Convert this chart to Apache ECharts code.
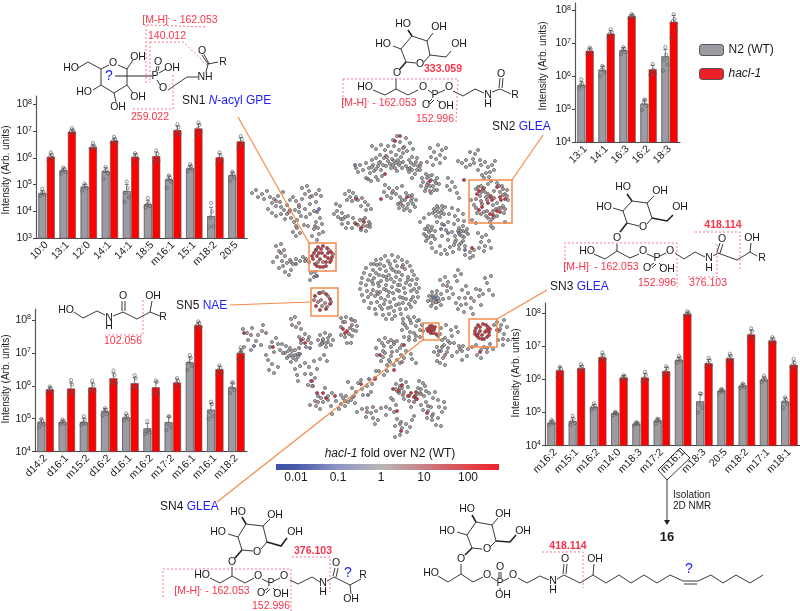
<!DOCTYPE html>
<html><head><meta charset="utf-8">
<style>html,body{margin:0;padding:0;background:#fff}#c{width:800px;height:611px}</style>
<script src="https://cdn.jsdelivr.net/npm/echarts@6/dist/echarts.min.js"></script>
</head><body><div id="c"></div>
<script>
// ---------- bar panel data ----------
const catsSN1=['10:0','13:1','12:0','14:1','14:1','18:5','m16:1','15:1','m18:2','20:5'];
const n2SN1=[4.8e4,3.5e5,8.5e4,3.2e5,5.9e4,1.9e4,1.6e5,4.1e5,6.8e3,2.3e5];
const haclSN1=[1.1e6,9.5e6,2.5e6,4.4e6,1.1e6,1.17e6,1.1e7,1.26e7,1.05e6,4.1e6];
const n2PtsSN1=[[3.8e4,4.3e4,4.8e4,5.2e4,7e4],[2.6e5,3e5,3.4e5,3.8e5,4.4e5],[6e4,7.5e4,8.5e4,9.5e4,1.1e5],[1.6e5,2.6e5,3.2e5,3.5e5,4.6e5],[2.3e4,3.4e4,5e4,7.5e4,1.3e5],[1.4e4,1.6e4,1.8e4,2e4,3.2e4],[7.5e4,1.3e5,1.6e5,1.8e5,2.2e5],[3.2e5,3.8e5,4.4e5,5e5,5.8e5],[2.7e3,2.8e3,6e3,1e4,2.1e4],[1.4e5,1.7e5,2.1e5,2.6e5,3e5]];
const haclPtsSN1=[[8e5,1e6,1.1e6,1.3e6,1.6e6],[8e6,9e6,1e7,1.1e7,1.3e7],[2.2e6,2.4e6,2.6e6,2.9e6,3.6e6],[3.4e6,4e6,4.4e6,5e6,6.2e6],[6e5,9e5,1.1e6,1.3e6,1.5e6],[7e5,8e5,1e6,1.4e6,1.9e6],[7e6,8e6,1e7,1.4e7,1.8e7],[7e6,9e6,1.2e7,1.7e7,2.1e7],[6e5,8e5,9e5,1.2e6,1.6e6],[2.5e6,3e6,3.6e6,5e6,6.5e6]];

const catsSN5=['d14:2','d16:1','m15:2','d16:2','d16:1','m16:2','m17:2','m16:1','m16:1','m18:2'];
const n2SN5=[8.1e4,8e4,8e4,1.7e5,1.1e5,5.1e4,7.9e4,5.2e6,1.9e5,9e5];
const haclSN5=[7.8e5,8.3e5,8.9e5,1.7e6,1.2e6,9e5,1.25e6,7e7,3.2e6,1e7];
const n2PtsSN5=[[5.5e4,6.5e4,7.5e4,8.5e4,1e5],[6.8e4,7.2e4,8e4,8.6e4,9.5e4],[6.5e4,7e4,7.5e4,9.5e4,1.2e5],[1.25e5,1.4e5,1.7e5,1.9e5,2.1e5],[9e4,1e5,1.1e5,1.25e5,1.45e5],[3.5e4,3.8e4,4.2e4,4.6e4,8.5e4],[4.5e4,5.5e4,7e4,1.15e5,1.2e5],[3e6,4e6,5e6,7e6,8.5e6],[1e5,1.2e5,1.6e5,2.8e5,3.3e5],[6e5,7.5e5,9e5,1.2e6,1.3e6]];
const haclPtsSN5=[[6e5,6.8e5,7.5e5,8.5e5,9.5e5],[5.5e5,6e5,7e5,1.1e6,1.5e6],[6.5e5,7e5,8e5,1.1e6,1.45e6],[1.1e6,1.2e6,1.4e6,2.1e6,2.9e6],[8e5,9e5,1e6,1.7e6,2.1e6],[5.5e5,6e5,8e5,1.3e6,1.45e6],[8e5,9.5e5,1.2e6,1.4e6,1.7e6],[5.5e7,6e7,7e7,8e7,9e7],[2.2e6,2.5e6,3e6,3.5e6,4.1e6],[6.5e6,7.5e6,1e7,1.2e7,1.45e7]];

const catsSN2=['13:1','14:1','16:3','16:2','18:3'];
const n2SN2=[5.5e5,1.6e6,6.3e6,1.5e5,4.1e6];
const haclSN2=[6e6,2e7,6.8e7,1.65e6,4.6e7];
const n2PtsSN2=[[4.3e5,5e5,5.5e5,5.9e5,8.2e5],[1e6,1.3e6,1.6e6,1.9e6,2.1e6],[4.7e6,5.4e6,6.2e6,7e6,7.8e6],[9.5e4,1.3e5,1.6e5,1.9e5,2e5],[1.5e6,2.3e6,3.2e6,4.5e6,7.8e6]];
const haclPtsSN2=[[4.6e6,5.3e6,6.2e6,7e6,7.5e6],[1.5e7,1.7e7,2e7,2.2e7,2.7e7],[5.8e7,6.2e7,6.8e7,7.2e7,7.8e7],[1.1e6,1.2e6,1.3e6,1.6e6,2.4e6],[1.5e7,2.4e7,4.8e7,5.5e7,7.8e7]];

const catsSN3=['m16:2','m15:1','m16:2','m14:0','m18:3','m17:2','m16:1','m18:3','20:5','m18:2','m17:1','m18:1'];
const n2SN3=[5e4,5.5e4,1.5e5,9.5e4,4.6e4,5.8e4,3.9e6,2.2e5,4.6e5,6.5e5,1e6,2.2e5];
const haclSN3=[1.9e6,2.2e6,4.7e6,1.15e6,1.15e6,1.8e6,9.5e7,3.1e6,4.4e6,2.3e7,1.5e7,2.8e6];
const n2PtsSN3=[[4.3e4,4.8e4,5e4,5.5e4,6e4],[4.2e4,4.8e4,5.4e4,6.5e4,8e4],[1.2e5,1.35e5,1.5e5,1.65e5,1.9e5],[8.3e4,9e4,9.5e4,1e5,1.06e5],[4.2e4,4.5e4,4.7e4,4.9e4,5.2e4],[4.6e4,5.3e4,5.8e4,6.2e4,6.6e4],[3.2e6,3.6e6,4e6,4.5e6,5.2e6],[1e5,1.4e5,1.8e5,3.7e5,3.8e5],[4e5,4.3e5,4.6e5,4.9e5,5.2e5],[5.6e5,6e5,6.5e5,7e5,7.6e5],[8.5e5,9.5e5,1e6,1.15e6,1.3e6],[1.4e5,1.8e5,2.2e5,2.5e5,2.9e5]];
const haclPtsSN3=[[1.2e6,1.4e6,1.8e6,2.1e6,2.4e6],[1.8e6,2e6,2.2e6,2.5e6,2.9e6],[3.6e6,4e6,4.6e6,5.4e6,6.5e6],[9.5e5,1e6,1.15e6,1.25e6,1.35e6],[8.5e5,9.5e5,1.1e6,1.4e6,1.7e6],[1.3e6,1.4e6,1.7e6,2.2e6,2.5e6],[8.5e7,9e7,9.5e7,1.05e8,1.15e8],[2.3e6,2.6e6,3.1e6,3.8e6,4.5e6],[3.4e6,3.8e6,4.4e6,5.2e6,6e6],[1.6e7,1.8e7,2.2e7,2.9e7,3.5e7],[1.2e7,1.3e7,1.5e7,1.7e7,1.9e7],[2.2e6,2.4e6,2.8e6,3.2e6,4.2e6]];

// ---------- molecular network nodes ----------
const netGray=[
[252,193],[256,190],[258,197],[262,194],[264,199],[267,191],[270,197],[274,199],[272,203],[278,196],[280,202],[276,206],[283,192],[281,207],[284,210],[287,205],[290,200],[293,197],[296,201],[299,207],[302,199],[305,194],[302,188],[307,186],[309,191],[312,196],[316,194],[319,190],[321,196],[316,202],[310,204],[305,209],[299,212],[295,210],[290,210],[287,214],[268,209],[272,213],[276,216],[281,214],[285,219],[291,218],[294,222],[297,220],[301,216],[306,217],[310,214],[314,211],[297,228],[293,232],[296,236],[300,233],[304,225],[308,226],[316,222],[320,218],[318,228],[322,224],[323,232],[319,234],[314,229],[312,236],[317,240],
[345,194],[349,191],[353,193],[356,197],[352,201],[347,200],[350,197],[358,200],[362,198],[365,202],[361,206],[368,205],[371,209],[366,210],[336,204],[340,206],[337,211],[342,213],[338,217],[334,214],[341,219],[345,217],
[343,219],[348,216],[353,218],[355,223],[352,228],[346,228],[342,224],[348,223],[360,220],[365,218],[369,222],[370,227],[366,231],[361,230],[358,225],
[273,262],[277,257],[279,251],[276,246],[281,244],[284,250],[285,256],[282,261],[287,263],[290,260],[293,264],[296,259],[300,261],[303,257],[306,259],[309,262],[283,266],[279,268],[285,272],[289,275],[291,270],[311,273],[314,277],[310,280],[317,276],[315,272],
[356,168],[360,165],[363,170],[358,172],[366,163],[369,168],[372,160],[376,158],[370,173],[374,171],[378,166],[381,170],[376,177],[366,178],[371,181],[378,180],[382,176],
[372,146],[376,149],[381,145],[385,150],[388,146],[391,152],[380,155],[386,156],[384,158],[388,161],[383,165],[380,162],[386,166],[390,164],
[396,155],[401,157],[403,162],[402,168],[397,171],[391,168],[392,159],[396,163],[399,165],[393,140],[397,136],[400,142],[404,147],[399,150],[394,146],[406,138],[410,143],[407,151],[413,149],[403,153],
[412,157],[417,158],[421,163],[420,170],[415,174],[409,172],[406,166],[409,160],[414,165],[412,178],
[430,148],[434,152],[438,145],[442,150],[446,148],[440,155],[436,159],[431,157],[427,162],[433,165],[440,163],[445,158],
[422,178],[426,174],[432,175],[437,178],[439,184],[437,190],[431,193],[425,191],[421,186],[428,183],[433,186],[427,178],[431,180],
[448,178],[452,182],[455,187],[450,190],[457,193],[459,198],[447,186],
[385,185],[389,188],[392,193],[387,196],[391,198],[396,194],[384,192],[397,188],[402,186],
[398,204],[400,197],[406,193],[412,195],[416,200],[415,207],[410,211],[404,210],[399,208],[405,200],[408,204],[411,201],
[458,161],[462,163],[466,160],[470,165],[473,159],[470,152],[475,154],[478,150],[474,163],[481,165],[485,162],[488,167],[492,165],[495,161],[490,172],[486,173],[482,175],[478,170],[484,178],[489,177],[480,160],[466,167],[494,170],
[476,189],[481,186],[485,192],[480,196],[497,183],[502,186],[500,192],[494,191],[486,197],[493,205],[505,194],[508,200],[503,206],[497,203],[474,205],[477,213],[484,212],[486,216],[494,217],[490,222],[499,208],[504,213],[497,216],[471,200],[488,184],[507,190],[472,220],[476,223],[491,181],[505,222],[491,226],[493,228],
[434,209],[438,208],[442,210],[444,214],[440,217],[436,216],[433,213],[438,212],[425,229],[428,226],[432,227],[435,231],[433,236],[428,238],[424,234],[429,232],[459,228],[463,226],[467,229],[468,234],[464,237],[460,235],[463,231],
[426,241],[431,243],[435,239],[432,248],[456,240],[461,243],[465,246],[459,249],[454,245],
[445,207],[452,208],[458,210],[463,214],[449,214],[455,216],[448,222],[454,224],[442,224],[437,222],[446,230],[452,232],[442,236],[448,240],[455,236],[440,246],[445,250],[450,247],[436,252],[441,254],[447,254],[453,252],[420,222],[424,218],[429,214],[458,220],[464,221],
[478,233],[482,237],[486,235],[481,242],[485,246],[489,241],[479,248],[484,251],[491,248],[470,252],[473,256],[470,258],[465,255],[474,250],
[385,256],[392,255],[398,257],[376,260],[381,259],[388,261],[395,261],[402,260],[407,262],[371,264],[377,265],[384,266],[390,264],[397,266],[403,265],[410,266],[366,268],[373,270],[380,269],[386,271],[393,270],[399,272],[405,269],[412,271],[364,273],[370,275],[376,273],[383,276],[389,275],[396,277],[402,275],[408,277],[414,275],[362,278],[368,280],[374,278],[381,281],[387,280],[394,282],[400,280],[406,283],[412,280],[417,279],[361,283],[366,285],[373,284],[379,286],[386,285],[392,287],[398,285],[404,288],[410,285],[416,284],[419,288],[360,289],[367,291],[373,290],[380,292],[386,290],[393,293],[399,291],[405,293],[411,291],[417,292],[362,295],[368,297],[375,296],[381,298],[388,296],[394,299],[400,297],[406,299],[413,297],[418,297],[364,301],[371,303],[377,302],[384,304],[390,302],[396,305],[403,303],[409,304],[415,302],[369,308],[375,309],[382,309],[388,308],[394,311],[400,309],[406,309],[411,307],[376,314],[383,315],[389,314],[395,316],[401,314],[386,319],[392,319],
[429,296],[432,292],[437,291],[441,294],[443,299],[441,305],[436,308],[431,306],[428,301],[434,298],[437,302],
[440,280],[445,277],[448,282],[443,285],[451,288],[447,291],[453,294],[449,298],[455,276],[458,270],[461,274],[457,281],[462,290],[466,286],[468,293],[465,298],[459,298],[456,303],[461,305],[466,304],[471,308],[474,301],[479,296],[476,289],[483,294],[487,283],[491,276],[485,278],[489,290],[493,295],[481,305],[473,314],[464,312],[458,309],
[403,319],[408,317],[414,317],[419,320],[422,325],[423,331],[420,337],[415,340],[409,340],[404,337],[402,330],[405,325],[411,323],[416,326],[410,332],[414,333],
[441,328],[446,325],[451,330],[456,327],[458,332],[452,336],[445,338],[440,334],[448,341],[442,340],[450,343],
[497,322],[501,325],[504,320],[507,327],[499,331],[504,334],[508,340],[503,345],[498,340],[476,345],[481,350],[487,352],[493,349],[490,344],[484,347],[477,355],[481,358],
[454,343],[459,346],[462,351],[457,352],[463,346],[467,356],[462,360],[468,349],[472,347],
[437,347],[441,351],[444,345],[447,352],[443,358],[438,355],[448,348],[434,352],[452,356],[440,363],[445,365],[437,361],
[379,340],[385,338],[391,340],[397,341],[402,345],[406,351],[404,358],[400,363],[394,365],[387,365],[381,361],[377,355],[376,348],[384,346],[391,347],[397,351],[385,353],[391,356],[383,357],[390,362],[412,359],[411,354],[416,363],
[341,318],[346,317],[351,319],[355,321],[357,326],[356,331],[352,336],[345,337],[341,335],[347,343],[351,343],[353,330],[343,322],
[320,335],[325,333],[330,335],[333,340],[331,345],[326,347],[320,345],[318,340],[323,340],[328,342],[291,319],[295,317],[299,323],[296,327],[301,329],[305,334],[309,337],[311,343],[306,347],[301,343],[299,337],[303,339],
[286,346],[290,348],[295,350],[298,354],[296,360],[291,362],[287,358],[285,353],[291,355],[276,338],[272,342],[270,347],[274,352],[280,350],[282,344],[278,344],[268,360],[272,364],[269,370],[274,373],[278,367],[266,355],[262,331],[258,335],[252,328],[247,333],[243,329],[256,341],[261,345],[248,340],[244,347],[241,352],[251,350],[263,325],
[295,369],[300,366],[305,363],[309,367],[314,361],[320,359],[324,355],[327,361],[317,369],[311,374],[305,374],[311,381],[315,378],[308,385],[313,386],[297,375],[298,381],
[310,405],[315,401],[318,396],[323,402],[320,409],[328,396],[332,393],[325,388],[331,406],[336,401],[341,395],[346,396],[351,400],[356,392],[352,388],[358,383],[362,389],[367,386],[372,384],[375,378],[379,371],[376,371],[384,375],[387,371],[371,392],[363,395],[345,406],[339,409],[355,403],[332,414],[361,380],[348,382],
[357,412],[362,409],[367,408],[371,413],[366,417],[373,418],[376,411],[381,408],[386,407],[375,424],[378,420],[394,412],[390,409],[386,415],
[396,384],[401,380],[406,382],[408,387],[404,392],[397,391],[400,386],[404,399],[409,401],[396,405],[393,400],[391,398],[409,396],[417,394],[416,399],[411,407],
[419,381],[423,383],[421,389],[426,391],[424,396],[420,393],[429,393],[435,392],[433,398],[431,407],
[421,405],[426,402],[423,410],[428,411],[433,414],[427,418],[432,420],[438,418],[442,412],[436,425],[441,426],[439,407],[444,402],[438,400],[445,408],
[397,419],[401,422],[395,426],[402,428],[406,424],[407,432],[400,435],[395,437],[410,427],[412,420],[414,416],
// denser sub-clusters
[435,211],[441,213],[437,206],[442,206],[427,229],[431,230],[426,236],[431,236],[461,231],[466,232],[462,236],[458,231],[455,242],[459,245],[463,241],
[394,161],[398,160],[400,163],[395,168],[393,165],[411,163],[416,162],[418,166],[412,170],[417,170],[408,169],[373,165],[376,169],[372,167],[379,163],[430,186],[426,188],[434,190],[429,176],[435,181],[423,182],
[403,206],[407,208],[413,204],[402,200],[412,198],[409,196],[400,203],[374,264],[380,264],[391,268],[396,272],[379,275],[386,277],[372,281],[378,283],[391,279],[400,285],[384,289],[389,292],[397,290],[408,280],[414,289],[371,294],[377,292],[403,298],[391,307],[385,300],[380,306],[399,304],
[323,339],[328,338],[326,343],[322,343],[292,351],[288,351],[293,358],[289,356],[298,357],[403,323],[410,320],[417,321],[420,330],[416,336],[409,337],[407,328],[382,343],[388,342],[394,344],[400,348],[401,355],[397,360],[389,360],[383,351],[436,295],[438,298],[431,300],[439,301],[433,303],
[396,389],[399,393],[402,388],[418,388],[425,386],[343,398],[348,402],[353,397],[341,404],[321,398],[316,406]
];
const netPink=[
[478,187],[484,188],[481,192],[476,199],[481,201],[487,200],[491,196],[494,198],[488,194],[503,189],[499,186],[503,195],[507,196],[482,204],[476,208],[481,214],[487,211],[493,211],[496,209],[501,208],[505,209],[492,219],[488,218],
[316,250],[329,250],[333,254],[323,262],[318,262],[319,293],[323,292],[328,296],[331,302],[321,300],[325,303],[322,306],[327,307],[314,300],[318,302],
[341,327],[345,322],[352,325],[349,334],[350,328],[370,224],[363,220],[363,226],[367,226],
[387,157],[403,148],[410,168],[420,166],[401,204],[393,191],[430,191],[427,185],[436,183],
[494,325],[500,329],[503,339],[487,348],[460,349],[445,355],[442,347],
[394,342],[392,352],[402,362],[352,320],[295,355],[308,340],[322,344],[299,348],[283,353],[292,325],[266,333],[251,335],
[400,388],[403,395],[421,394],[414,402],[428,406],[432,416],[367,412],[373,407],[354,396],[345,401],[328,400],[318,402],[312,386],[400,424],
[299,205],[289,212],[276,201],[310,197],[296,226],[315,226],[281,253],[291,262],[305,261],[402,267],[378,294],[411,300],[447,286],[471,298],[480,290],[436,302]
];
const netRed=[
[318,247],[323,246],[327,248],[331,252],[332,257],[330,262],[326,266],[320,267],[315,264],[313,259],[314,253],[319,253],[325,256],[320,259],[321,249],[328,253],[331,260],[323,267],[317,266],[312,256],[317,256],[322,253],[328,258],[316,250],[326,262],
[315,296],[320,293],[326,294],[330,299],[330,304],[326,309],[320,310],[316,306],
[479,191],[483,189],[477,194],[490,197],[492,200],[488,203],[500,197],[505,199],[501,200],[497,187],[479,210],[482,207],[490,214],[493,215],[500,212],[497,211],
[478,325],[483,324],[488,327],[489,332],[487,337],[482,339],[477,336],[475,331],[480,331],[485,332],[476,328],[480,327],[486,325],[490,329],[489,335],[484,339],[479,338],[475,334],[478,334],[482,335],[487,330],
[429,328],[432,326],[434,330],[431,333],[428,331],[431,330],[436,334],[430,326],[433,328],[430,332],[427,329],[435,327],[433,333],
[345,333],[343,329],[347,331],[400,136],[395,141],[385,174],[407,197],[381,199],[430,181],[464,180],[472,248],[356,224],[361,228],[364,222],[356,199],
[402,385],[414,397],[417,399],[411,393],[408,396],[416,392],[399,391],[394,370],[404,345],[380,355],[312,381],[323,393],[335,396],[326,398],[375,379],[317,393],[361,384],[273,347],[244,333],[301,340],[305,343],[415,396],[427,413],[397,411],[401,431],[393,389],[497,330],[480,352]
];
const netBlue=[[319,209],[317,212],[355,165],[368,179],[448,233],[441,229],[459,233],[444,225],[300,354],[254,346],[296,264],[316,276],[435,299],[465,250],[432,296],[438,336],[439,351],[368,395],[369,379],[310,348]];

// ---------- annotation text ----------
const bandTickLabels=['0.01','0.1','1','10','100'];

const RED='#f9344a', ORANGE='#f58a4b', BLK='#1a1a1a', BLUE='#1c1cff';
const FONT='"Liberation Sans",Arial,sans-serif';
const g=[];
function L(p,w,c,z){g.push({type:'polyline',z:z||20,shape:{points:p},style:{stroke:c||'#222',lineWidth:w||0.9,fill:null}});}
function D(p){g.push({type:'polyline',z:21,shape:{points:p},style:{stroke:'#fb6a7a',lineWidth:0.9,lineDash:[2,2],fill:null}});}
function T(s,x,y,o){o=o||{};g.push({type:'text',z:o.z||22,x:x,y:y,rotation:o.rot||0,style:{text:s,fontFamily:FONT,fontSize:o.size||10.5,fontWeight:o.w||'normal',fontStyle:o.it||'normal',fill:o.c||BLK,align:o.a||'center',verticalAlign:'middle',rich:o.rich}});}
function Box(x,y,w,h){g.push({type:'rect',z:19,shape:{x:x,y:y,width:w,height:h},style:{stroke:ORANGE,lineWidth:1.5,fill:null}});}
function R(s,x,y,b){T(s,x,y,{c:RED,w:b?'bold':'normal',size:10.5});}
function Ms(x,y){T('[M-H]{s|-} - 162.053',x,y,{c:RED,size:10.5,rich:{s:{fontSize:7,verticalAlign:'top',fill:RED,fontFamily:FONT}}});}
function Lab(s1,s2,x,y,it){T('{a|'+s1+' }'+(it?'{i|N}{b|-acyl GPE}':'{b|'+s2+'}'),x,y,{a:'left',rich:{a:{fontSize:12,fill:BLK,fontFamily:FONT},b:{fontSize:12,fill:BLUE,fontFamily:FONT},i:{fontSize:12,fill:BLUE,fontStyle:'italic',fontFamily:FONT}}});}

// orange links and boxes
L([[238,117],[309,243]],1.2,ORANGE,5);L([[543,135],[512,180]],1.2,ORANGE,5);L([[230,305],[311,302]],1.2,ORANGE,5);
L([[547,290],[497,319]],1.2,ORANGE,5);L([[217,502],[424,339]],1.2,ORANGE,5);
Box(469,180,43,43);Box(309,243,27,28);Box(311,288,27,28);Box(469,319,28,28);Box(423,323,16,17);

// SN1 structure
L([[78,68],[88,62],[101,69],[109,65]]);L([[118,65],[127,69],[127,85],[114,93],[101,85],[101,69]]);
L([[127,69],[133,60]]);L([[127,85],[133,93]]);L([[114,93],[116,102]]);L([[101,85],[93,90]]);
L([[115,76],[152,76]],1.2);L([[156,71],[157,66]]);L([[158,71],[159,66]]);L([[159,73],[166,69]]);L([[157,80],[160,85]]);
L([[168,90],[187,77],[198,77]]);L([[206,72],[208,64],[202,55]]);L([[209,64],[204,54]]);L([[208,64],[218,62]]);
T('HO',71,68);T('O',113,63);T('OH',138,57);T('OH',138,97);T('OH',118,107);T('HO',84,92);T('P',155,76);T('O',158,62);T('OH',172,68);T('O',163,88);T('NH',205,77);T('O',202,51);T('R',223,62);
T('?',109,76,{c:BLUE,size:14});
Ms(180,20);D([[147,25],[207,27]]);D([[146,25],[146,83]]);
R('140.012',167,36);D([[150,42],[183,42],[207,65]]);D([[150,42],[150,83]]);
R('259.022',150,117);D([[133,109],[173,109],[173,75]]);
Lab('SN1','',182,101,true);

// SN2 structure
L([[412,36],[427,41],[430,55],[424,62]]);L([[416,63],[406,62],[401,49],[412,36]]);L([[412,36],[408,30]],1.6);L([[427,41],[433,33]]);L([[401,49],[393,46]]);
L([[430,55],[446,57],[451,51]]);L([[406,62],[400,69]],1.6);L([[396,78],[396,89]]);
L([[373,90],[385,95],[396,89],[408,95],[418,90]]);L([[428,90],[432,93]]);L([[438,93],[445,90]]);L([[432,99],[428,103]]);L([[434,100],[430,104]]);L([[437,100],[441,103]]);
L([[453,91],[463,96],[475,89],[484,93]]);L([[492,92],[500,89],[511,94]]);L([[499,88],[500,78]]);L([[502,88],[503,78]]);
T('HO',403,24);T('OH',439,27);T('HO',383,44);T('OH',459,44);T('O',420,64);T('O',397,73);T('HO',365,87);T('O',423,87);T('P',435,95);T('O',449,87);T('O',426,105);T('OH',446,106);T('N',488,95);T('H',488,104);T('O',501,74);T('R',515,95);
D([[343,79],[458,79],[456,122]]);D([[343,79],[343,108]]);Ms(379,103);R('333.059',443,69,true);R('152.996',435,119);
Lab('SN2','GLEA',492,127);

// SN3 structure
L([[632,201],[647,203],[652,218],[647,224]]);L([[639,226],[627,223],[623,211],[632,201]]);L([[632,201],[627,194]],1.6);L([[647,203],[654,196]]);L([[623,211],[613,208]]);
L([[652,218],[667,221],[673,215]],1.6);L([[627,223],[620,232]],1.6);L([[617,244],[617,251]]);
L([[594,254],[605,259],[617,251],[630,258],[639,254]]);L([[647,254],[654,257]]);L([[660,256],[666,253]]);L([[654,263],[650,266]]);L([[656,264],[652,268]]);L([[659,263],[662,266]]);
L([[675,253],[684,259],[695,252],[705,257]]);L([[713,256],[718,253],[737,260],[750,252],[757,256]]);L([[717,252],[720,243]]);L([[720,253],[723,244]]);L([[750,252],[751,243]]);
T('HO',623,187);T('OH',660,191);T('HO',604,207);T('OH',680,207);T('O',643,227);T('O',617,238);T('HO',587,251);T('O',643,251);T('P',657,258);T('O',670,251);T('O',647,268);T('OH',667,269);T('N',709,258);T('H',709,268);T('O',722,239);T('OH',752,238);T('R',762,258);
D([[695,232],[740,232],[740,270]]);D([[565,272],[565,243],[677,243],[677,287]]);D([[688,277],[717,277],[717,244]]);
R('418.114',723,225,true);R('376.103',708,283);R('152.996',657,283);Ms(601,267);
Lab('SN3','GLEA',550,287);

// SN5 structure
L([[74,312],[83,318],[97,311],[105,315]]);L([[113,316],[123,312],[137,319],[150,312],[160,316]]);L([[122,311],[122,301]]);L([[125,311],[125,301]]);L([[150,312],[152,301]]);
T('HO',66,310);T('N',109,318);T('H',109,326);T('O',123,296);T('OH',153,296);T('R',163,317);
D([[143,300],[143,335],[105,335]]);R('102.056',123,341);Lab('SN5','NAE',176,306);

// SN4 structure
L([[246,524],[263,526],[267,542],[261,549]]);L([[253,551],[242,550],[238,537],[246,524]]);L([[246,524],[242,517]],1.6);L([[263,526],[270,519]]);L([[238,537],[228,534]]);
L([[267,542],[281,546],[287,538]],1.6);L([[242,550],[235,558]],1.6);L([[232,567],[232,576]]);
L([[210,578],[220,583],[232,576],[245,583],[254,578]]);L([[262,579],[268,582]]);L([[274,581],[280,578]]);L([[268,588],[264,591]]);L([[270,589],[266,593]]);L([[273,588],[276,591]]);
L([[290,580],[298,584],[312,577],[320,582]]);L([[327,581],[334,577],[350,585],[361,579]]);L([[333,576],[335,568]]);L([[336,577],[338,568]]);L([[350,585],[351,594]]);
T('HO',238,512);T('OH',275,515);T('HO',218,532);T('OH',295,532);T('O',257,552);T('O',232,562);T('HO',202,575);T('O',258,576);T('P',271,583);T('O',284,576);T('O',261,593);T('OH',281,594);T('N',323,583);T('H',323,592);T('O',336,563);T('R',363,575);T('OH',351,599);T('?',348,573,{c:BLUE,size:14});
D([[292,557],[330,557],[330,592]]);D([[163,597],[163,569],[291,569],[291,611]]);R('376.103',313,551,true);Ms(212,591);R('152.996',271,606);
Lab('SN4','GLEA',160,507);

// compound 16
L([[476,522],[492,525],[496,541],[490,547]]);L([[482,549],[472,548],[467,535],[476,522]]);L([[476,522],[472,515]],1.6);L([[492,525],[498,518]]);L([[467,535],[457,532]]);
L([[496,541],[510,542],[516,535]],1.6);L([[472,548],[465,555]],1.6);L([[461,564],[461,574]]);
L([[438,576],[448,582],[461,574],[473,582],[483,577]]);L([[491,577],[497,581]]);L([[503,581],[509,578]]);L([[499,578],[499,572]]);L([[501,578],[501,572]]);L([[500,588],[500,591]]);
L([[518,578],[527,583],[540,576],[549,580]]);L([[557,579],[564,575],[580,583],[593,575],[606,583],[619,575],[631,583],[644,575],[657,583],[670,575],[683,581],[698,581],[711,575],[723,583],[736,575],[750,583],[763,575]]);
L([[684,584],[697,584]]);L([[563,574],[564,564]]);L([[566,574],[567,564]]);L([[593,575],[594,564]]);
T('HO',467,509);T('OH',503,514);T('HO',447,531);T('OH',523,531);T('O',487,549);T('O',461,559);T('HO',431,573);T('O',487,575);T('P',500,583);T('O',513,575);T('O',500,567);T('OH',503,595);T('N',553,581);T('H',553,590);T('O',565,559);T('OH',595,559);T('?',689,569,{c:BLUE,size:14});
D([[542,552],[583,552],[583,588]]);R('418.114',568,546,true);

// isolation arrow + label
g.push({type:'polygon',z:20,shape:{points:[[658,470],[680,448],[690,458],[667,480]]},style:{stroke:'#222',lineWidth:0.9,fill:null}});
L([[667,480],[667,520]],0.9);g.push({type:'polygon',z:20,shape:{points:[[664,520],[670,520],[667,525]]},style:{fill:'#222'}});
T('Isolation',673,495,{a:'left',size:10});T('2D NMR',673,506,{a:'left',size:10});T('16',667,537,{size:13,w:'bold'});

// axis titles
[[6,170],[6,379],[543,66],[516,373]].forEach(p=>T('Intensity (Arb. units)',p[0],p[1],{rot:Math.PI/2,size:10}));

// colour bar
g.push({type:'rect',z:20,shape:{x:276,y:464,width:223,height:6},style:{fill:new echarts.graphic.LinearGradient(0,0,1,0,[{offset:0,color:'#3c50a5'},{offset:.1,color:'#4a5cab'},{offset:.28,color:'#8f95c6'},{offset:.47,color:'#b8b8b8'},{offset:.68,color:'#c97b80'},{offset:1,color:'#ee2027'}])}});
T('{i|hacl-1} fold over N2 (WT)',390,454,{size:12,rich:{i:{fontStyle:'italic',fontSize:12,fontFamily:FONT,fill:BLK}}});
[296,338,381,424,468].forEach((x,i)=>T(bandTickLabels[i],x,478,{size:12}));

// ---------- panels ----------
const panels=[
 {cats:catsSN1,n2:n2SN1,h:haclSN1,np:n2PtsSN1,hp:haclPtsSN1,left:36,top:96,width:211,bottom:238.3,min:1e3,maxExp:8.31},
 {cats:catsSN5,n2:n2SN5,h:haclSN5,np:n2PtsSN5,hp:haclPtsSN5,left:35,top:309,width:212,bottom:451.7,min:1e4,maxExp:8.33},
 {cats:catsSN2,n2:n2SN2,h:haclSN2,np:n2PtsSN2,hp:haclPtsSN2,left:575,top:3,width:105,bottom:142.3,min:1e4,maxExp:8.23},
 {cats:catsSN3,n2:n2SN3,h:haclSN3,np:n2PtsSN3,hp:haclPtsSN3,left:545,top:303,width:255,bottom:445.7,min:1e4,maxExp:8.31}
];
const grids=[],xs=[],ys=[],series=[];
function stat(a){const m=a.reduce((s,v)=>s+v,0)/a.length;return Math.sqrt(a.reduce((s,v)=>s+(v-m)*(v-m),0)/(a.length-1));}
const jit=[-2.2,2.2,-0.8,1,0];
panels.forEach((p,i)=>{
 grids.push({left:p.left,top:p.top,width:p.width,height:p.bottom-p.top,containLabel:false});
 xs.push({type:'category',gridIndex:i,data:p.cats,axisTick:{show:false},axisLine:{lineStyle:{color:'#444',width:1.2}},
   axisLabel:{rotate:45,fontSize:10.5,color:BLK,fontFamily:FONT,margin:5,interval:0}});
 ys.push({type:'log',logBase:10,gridIndex:i,min:p.min,max:Math.pow(10,p.maxExp),splitLine:{show:false},axisLine:{show:true,lineStyle:{color:'#555',width:1.2}},
   axisTick:{show:true,length:3,lineStyle:{color:'#444'},customValues:[1e3,1e4,1e5,1e6,1e7,1e8].filter(v=>v>=p.min)},minorTick:{show:false},
   axisLabel:{fontSize:10.5,color:BLK,fontFamily:FONT,margin:4,customValues:[1e3,1e4,1e5,1e6,1e7,1e8].filter(v=>v>=p.min),
     formatter:v=>{const e=Math.round(Math.log10(v));return Math.abs(Math.log10(v)-e)<.01?'10{s|'+e+'}':'';},
     rich:{s:{fontSize:7,verticalAlign:'top',padding:[0,0,5,0],fontFamily:FONT,color:BLK}}}});
 const base={type:'bar',xAxisIndex:i,yAxisIndex:i,barWidth:'38%',barGap:'5%',animation:false,silent:true};
 series.push(Object.assign({},base,{name:'N2 (WT)',data:p.n2,itemStyle:{color:'#9b9ba1',borderColor:'#555',borderWidth:0.8}}));
 series.push(Object.assign({},base,{name:'hacl-1',data:p.h,itemStyle:{color:'#ff0000',borderColor:'#555',borderWidth:0.6}}));
 const items=[];
 [[p.n2,p.np,-1],[p.h,p.hp,1]].forEach(t=>{
   t[0].forEach((v,c)=>{
     items.push([c,t[2],v,v+stat(t[1][c]),-1]);
     t[1][c].forEach((q,k)=>items.push([c,t[2],q,q,k]));
   });
 });
 series.push({type:'custom',xAxisIndex:i,yAxisIndex:i,silent:true,animation:false,z:5,clip:false,encode:{x:0,y:2},data:items,
  renderItem:(params,api)=>{
   const c=api.value(0),side=api.value(1),v=api.value(2),top=api.value(3),k=api.value(4);
   const a=api.coord([c,v]),b=api.coord([c+1,v]);const off=(b[0]-a[0])*0.2*side;const x=a[0]+off;
   if(k<0){const t=api.coord([c,top]);
     return {type:'group',children:[
      {type:'line',shape:{x1:x,y1:a[1],x2:x,y2:t[1]},style:{stroke:'#444',lineWidth:0.7}},
      {type:'line',shape:{x1:x-2,y1:t[1],x2:x+2,y2:t[1]},style:{stroke:'#444',lineWidth:0.7}}]};}
   return {type:'circle',shape:{cx:x+jit[k],cy:a[1],r:1.6},style:{fill:'rgba(255,255,255,0)',stroke:'#555',lineWidth:0.6}};
  }});
});
// network canvas axes
const ni=panels.length;
grids.push({left:0,top:0,width:800,height:611});
xs.push({type:'value',gridIndex:ni,min:0,max:800,show:false});
ys.push({type:'value',gridIndex:ni,min:0,max:611,inverse:true,show:false});
function net(d,col,z){series.push({type:'scatter',xAxisIndex:ni,yAxisIndex:ni,data:d,symbolSize:3.2,silent:true,animation:false,z:z,itemStyle:{color:col,borderColor:'#4d4d4d',borderWidth:0.6,opacity:1}});}
net(netGray,'#a6a6ac',2);net(netPink,'#c58a8e',3);net(netBlue,'#7680b8',3);net(netRed,'#e0303c',4);

const chart=echarts.init(document.getElementById('c'),null,{renderer:'canvas'});
chart.setOption({animation:false,backgroundColor:'#fff',grid:grids,xAxis:xs,yAxis:ys,series:series,
 legend:{orient:'vertical',left:694,top:39,itemWidth:24,itemHeight:11,itemGap:12,selectedMode:false,
  textStyle:{fontSize:12,color:BLK,fontFamily:FONT},
  data:[{name:'N2 (WT)',itemStyle:{color:'#9b9ba1',borderColor:'#555',borderWidth:1}},{name:'hacl-1',itemStyle:{color:'#ee2027',borderColor:'#555',borderWidth:1},textStyle:{fontStyle:'italic'}}]},
 graphic:{elements:g}});
</script></body></html>
